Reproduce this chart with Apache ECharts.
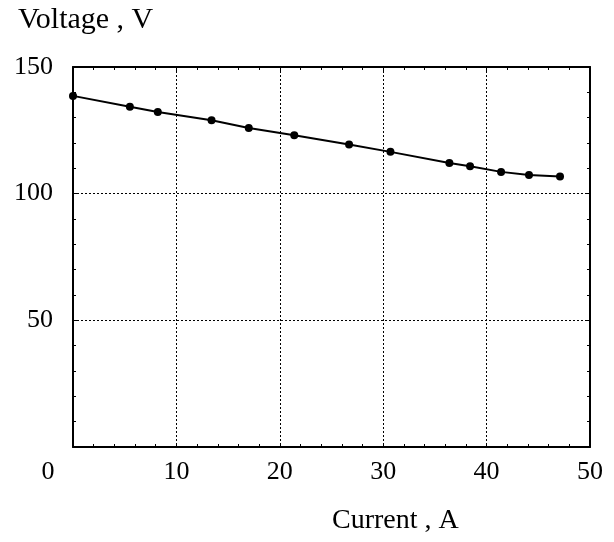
<!DOCTYPE html>
<html>
<head>
<meta charset="utf-8">
<script src="https://cdn.jsdelivr.net/npm/echarts@6/dist/echarts.min.js"></script>
<style>
  html, body { margin: 0; padding: 0; background: #fff; }
  #container { width: 614px; height: 542px; }
</style>
</head>
<body>
<div id="container"></div>
<script>
// current (A) vs voltage (V)
var currentA = [0, 5.5, 8.2, 13.4, 17.0, 21.4, 26.7, 30.7, 36.4, 38.4, 41.4, 44.1, 47.1];
var voltageV = [138.6, 134.3, 132.2, 129.0, 125.9, 123.1, 119.4, 116.5, 112.1, 110.8, 108.6, 107.4, 106.8];
var xTicks = [0, 10, 20, 30, 40, 50];
var yTicks = [0, 50, 100, 150];

var font = '"Liberation Serif", "Times New Roman", serif';

var dom = document.getElementById('container');
var myChart = echarts.init(dom, null, {renderer: 'canvas'});

var points = currentA.map(function(x, i) {
    return [x, voltageV[i]];
});

var frameLine = {show: true, onZero: false, lineStyle: {color: '#000', width: 2}};
var dotted = {show: true, lineStyle: {color: '#000', width: 1, type: [2, 2]}};
var ticksIn = {show: true, inside: true, length: 4, lineStyle: {color: '#000'}};
var minorIn = {show: true, splitNumber: 5, length: 3, lineStyle: {color: '#000'}};

var option = {
    backgroundColor: '#fff',
    animation: false,
    grid: {left: 73, right: 24, top: 67, bottom: 95},
    xAxis: [
        {
            type: 'value',
            min: xTicks[0],
            max: xTicks[xTicks.length - 1],
            interval: 10,
            axisLine: frameLine,
            axisTick: ticksIn,
            minorTick: minorIn,
            splitLine: dotted,
            axisLabel: {
                color: '#000',
                fontFamily: font,
                fontSize: 26,
                margin: 12,
                formatter: function(v) {
                    return v === 0 ? '{z|0}' : String(v)
                },
                rich: {
                    z: {fontFamily: font, fontSize: 26, color: '#000', padding: [0, 50, 0, 0]}
                }
            }
        },
        {
            type: 'value',
            position: 'top',
            min: 0,
            max: 50,
            interval: 10,
            axisLine: frameLine,
            axisTick: ticksIn,
            minorTick: minorIn,
            splitLine: {show: false},
            axisLabel: {show: false}
        }
    ],
    yAxis: [
        {
            type: 'value',
            min: yTicks[0],
            max: yTicks[yTicks.length - 1],
            interval: 50,
            axisLine: frameLine,
            axisTick: ticksIn,
            minorTick: minorIn,
            splitLine: dotted,
            axisLabel: {
                color: '#000',
                fontFamily: font,
                fontSize: 26,
                margin: 20,
                formatter: function(v) {
                    return v === 0 ? '' : String(v)
                }
            }
        },
        {
            type: 'value',
            position: 'right',
            min: 0,
            max: 150,
            interval: 50,
            axisLine: frameLine,
            axisTick: ticksIn,
            minorTick: minorIn,
            splitLine: {show: false},
            axisLabel: {show: false}
        }
    ],
    graphic: [
        {
            type: 'text',
            left: 18,
            top: 5,
            style: {text: 'Voltage , V', font: '30px ' + font, fill: '#000'}
        },
        {
            type: 'text',
            left: 332,
            top: 507,
            style: {text: 'Current , A', font: '28px ' + font, fill: '#000'}
        }
    ],
    series: [
        {
            name: 'Voltage',
            type: 'line',
            xAxisIndex: 0,
            yAxisIndex: 0,
            data: points,
            symbol: 'circle',
            symbolSize: 8,
            itemStyle: {color: '#000'},
            lineStyle: {color: '#000', width: 2}
        }
    ]
};

myChart.setOption(option, true);
</script>
</body>
</html>
